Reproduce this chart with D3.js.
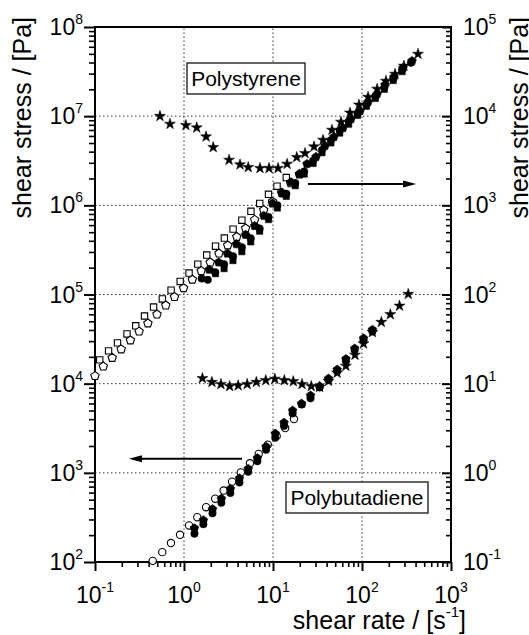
<!DOCTYPE html>
<html>
<head>
<meta charset="utf-8">
<script src="https://cdn.jsdelivr.net/npm/d3@7"></script>
<style>
  body { margin: 0; background: #fff; }
  text { font-family: "Liberation Sans", Arial, sans-serif; fill: #000; }
</style>
</head>
<body>
<div id="chart"></div>
<script>
// shear rate [1/s], shear stress [Pa]  (stars: right axis value)
const psOpenSquares = [[0.113,1.85e4],[0.142,2.33e4],[0.179,2.87e4],[0.229,3.61e4],[0.287,4.46e4],[0.360,5.74e4],
  [0.455,7.23e4],[0.571,8.91e4],[0.716,1.12e5],[0.906,1.40e5],[1.14,1.74e5],[1.43,2.19e5],[1.80,2.77e5],[2.26,3.48e5],
  [2.84,4.30e5],[3.56,5.41e5],[4.47,6.81e5],[5.65,8.57e5],[7.10,1.05e6],[8.90,1.33e6],[11.1,1.64e6],[14.1,2.05e6]]
const psOpenPentagons = [[0.100,1.22e4],[0.124,1.56e4],[0.156,1.95e4],[0.197,2.43e4],[0.250,3.06e4],[0.313,3.85e4],
  [0.393,4.75e4],[0.497,5.98e4],[0.624,7.54e4],[0.782,9.40e4],[0.989,1.18e5],[1.24,1.47e5],[1.56,1.84e5],[1.97,2.29e5],
  [2.47,2.89e5],[3.10,3.56e5],[3.92,4.43e5],[4.92,5.52e5],[6.22,6.89e5],[7.87,8.85e5],[9.87,1.10e6],[12.5,1.39e6],
  [15.8,1.77e6],[19.8,2.22e6]]
const psFilledCircles = [[1.58,1.51e5],[1.85,1.46e5],[2.24,1.78e5],[2.82,2.19e5],[3.55,2.69e5],[4.47,3.39e5],
  [5.62,4.27e5],[7.08,5.50e5],[8.91,7.41e5],[11.2,1.00e6],[14.1,1.35e6],[17.8,1.78e6],[22.4,2.40e6],[28.2,3.16e6],
  [35.5,4.17e6],[44.7,5.37e6],[56.2,6.92e6],[70.8,8.71e6],[89.1,1.07e7],[112,1.35e7],[141,1.66e7],[178,2.09e7],
  [224,2.63e7],[282,3.31e7],[355,3.98e7]]
const psFilledSquares = [[2.26,1.71e5],[2.82,1.95e5],[3.55,2.40e5],[4.47,3.02e5],[5.62,3.89e5],[7.08,5.13e5],
  [8.91,6.92e5],[11.2,9.33e5],[14.1,1.26e6],[17.8,1.66e6],[22.4,2.24e6],[28.2,2.95e6],[35.5,3.89e6],[44.7,5.01e6],
  [56.2,6.46e6],[70.8,8.13e6],[89.1,1.02e7],[112,1.29e7],[141,1.58e7],[178,2.00e7],[224,2.51e7],[282,3.16e7]]
const psFilledPentagons = [[1.92,1.90e5],[2.45,2.29e5],[3.07,2.88e5],[3.88,3.67e5],[4.92,4.67e5],[6.22,5.87e5],
  [7.87,7.64e5],[9.86,1.05e6],[12.6,1.36e6],[15.9,1.82e6],[19.8,2.25e6],[24.1,2.91e6],[30.4,3.49e6],[38.4,4.63e6],
  [48.4,5.85e6],[61.2,7.38e6],[75.2,9.31e6],[95.1,1.14e7],[117,1.44e7],[148,1.77e7],[181,2.24e7],[229,2.75e7],
  [289,3.47e7],[365,4.16e7]]
const psStars = [[0.537,1.00e4],[0.696,8.18e3],[1.05,7.91e3],[1.39,7.43e3],[1.77,5.89e3],[2.13,4.48e3],[3.21,3.23e3],
  [4.26,2.86e3],[5.27,2.67e3],[7.14,2.61e3],[9.02,2.61e3],[11.4,2.61e3],[14.4,2.91e3],[18.5,3.46e3],[22.9,3.84e3],
  [28.9,4.55e3],[36.5,5.41e3],[46.0,7.00e3],[58.1,8.61e3],[73.3,1.09e4],[92.5,1.34e4],[117,1.64e4],[148,2.02e4],
  [186,2.48e4],[235,2.97e4],[296,3.66e4],[426,4.98e4]]

const pbOpenCircles = [[0.445,103],[0.570,129],[0.714,163],[0.902,202],[1.14,257],[1.41,318],[1.77,412],[2.24,513],
  [2.79,633],[3.47,796],[4.35,1.01e3],[5.51,1.28e3],[6.91,1.63e3],[8.74,2.07e3],[11.0,2.58e3],[13.7,3.18e3],[17.2,4.01e3]]
const pbFilledCircles = [[1.31,208],[1.65,265],[2.09,352],[2.63,462],[3.32,595],[4.20,780],[5.27,1.03e3],[6.67,1.35e3],
  [8.36,1.81e3],[10.6,2.47e3],[13.3,3.35e3],[16.6,4.63e3],[21.1,5.83e3],[26.4,6.84e3],[33.4,9.07e3],[42.0,1.10e4],
  [52.6,1.38e4],[66.0,1.79e4],[82.7,2.38e4],[104,3.06e4],[131,3.85e4]]
const pbFilledPentagons = [[1.31,239],[1.65,294],[2.09,391],[2.63,513],[3.32,661],[4.20,867],[5.27,1.11e3],[6.67,1.46e3],
  [8.36,1.96e3],[10.6,2.75e3],[13.3,3.65e3],[16.6,4.99e3],[20.9,5.96e3],[26.4,7.36e3],[33.4,9.36e3],[42.0,1.14e4],
  [52.6,1.44e4],[66.0,1.89e4],[82.7,2.48e4],[104,3.22e4],[131,4.02e4]]
const pbStars = [[1.61,11.5],[2.06,10.4],[2.60,9.87],[3.26,9.36],[4.06,9.55],[5.13,9.87],[6.50,10.4],[8.29,10.9],
  [10.5,11.3],[13.4,10.9],[16.9,10.6],[21.2,9.87],[26.9,9.36],[33.4,9.17],[42.0,10.7],[52.6,13.2],[65.9,15.8],
  [83.4,21.0],[104,28.1],[131,37.8],[165,49.0],[208,59.8],[264,74.6],[331,101]]

const xTicks = [0.1, 1, 10, 100, 1000]
const yTicks = [1e2, 1e3, 1e4, 1e5, 1e6, 1e7, 1e8]
const y2Ticks = [0.1, 1, 10, 100, 1000, 1e4, 1e5]

// annotations: [x1, x2, y] in data units
const arrowRight = [24.7, 405, 1.74e6]
const arrowLeft = [4.49, 0.241, 1.44e3]

const width = 529, height = 635
const margin = {top: 27, right: 78, bottom: 73, left: 95}

const svg = d3.select("#chart").append("svg")
  .attr("width", width)
  .attr("height", height)

const x = d3.scaleLog().domain([0.1, 1000]).range([margin.left, width - margin.right])
const y = d3.scaleLog().domain([100, 1e8]).range([height - margin.bottom, margin.top])
const y2 = d3.scaleLog().domain([0.1, 1e5]).range([height - margin.bottom, margin.top])

function minors(majors) {
  let out = []
  majors.slice(0, -1).forEach(d => {
    for (let k = 2; k <= 9; k++) out.push(d * k)
  })
  return out
}

// gridlines
const grid = svg.append("g")
  .attr("stroke", "#333")
  .attr("stroke-width", 1)
  .attr("stroke-dasharray", "1.5,2.5")
grid.selectAll(".gx")
  .data(xTicks.slice(1, -1))
  .enter().append("line")
  .attr("x1", d => x(d)).attr("x2", d => x(d))
  .attr("y1", y.range()[0]).attr("y2", y.range()[1])
grid.selectAll(".gy")
  .data(yTicks.slice(1, -1))
  .enter().append("line")
  .attr("y1", d => y(d)).attr("y2", d => y(d))
  .attr("x1", x.range()[0]).attr("x2", x.range()[1])

// axes ticks
function drawAxis(axisFn, scale, majors, bigSize, smallSize, transform) {
  svg.append("g")
    .attr("transform", transform)
    .call(axisFn(scale).tickValues(majors).tickSize(bigSize).tickSizeOuter(0).tickFormat(""))
    .call(g => g.select(".domain").remove())
    .call(g => g.selectAll("line").attr("stroke-width", 2))
  svg.append("g")
    .attr("transform", transform)
    .call(axisFn(scale).tickValues(minors(majors)).tickSize(smallSize).tickSizeOuter(0).tickFormat(""))
    .call(g => g.select(".domain").remove())
    .call(g => g.selectAll("line").attr("stroke-width", 1.6))
}
const bottomY = height - margin.bottom
drawAxis(d3.axisLeft, y, yTicks, 11, 6, `translate(${margin.left},0)`)
drawAxis(d3.axisBottom, x, xTicks, 9, 5, `translate(0,${bottomY})`)
drawAxis(d3.axisLeft, y2, y2Ticks, 9, 5, `translate(${width - margin.right},0)`)

// frame
svg.append("rect")
  .attr("x", margin.left).attr("y", margin.top)
  .attr("width", x.range()[1] - x.range()[0])
  .attr("height", y.range()[0] - y.range()[1])
  .attr("fill", "none")
  .attr("stroke", "#000")
  .attr("stroke-width", 2)

// power-of-ten tick labels
function powLabel(sel) {
  sel.append("tspan").text("10")
  sel.append("tspan")
    .attr("dy", -11)
    .attr("font-size", 14)
    .text(d => Math.round(Math.log10(d)))
}
svg.append("g").selectAll("text")
  .data(yTicks).enter().append("text")
  .attr("x", margin.left - 12)
  .attr("y", d => y(d) + 8)
  .attr("text-anchor", "end")
  .attr("font-size", 23)
  .call(powLabel)
svg.append("g").selectAll("text")
  .data(y2Ticks).enter().append("text")
  .attr("x", width - margin.right + 12)
  .attr("y", d => y2(d) + 8)
  .attr("text-anchor", "start")
  .attr("font-size", 23)
  .call(powLabel)
svg.append("g").selectAll("text")
  .data(xTicks).enter().append("text")
  .attr("x", d => x(d))
  .attr("y", bottomY + 41)
  .attr("text-anchor", "middle")
  .attr("font-size", 23)
  .call(powLabel)

// axis titles
svg.append("text")
  .attr("transform", "translate(31,17) rotate(-90)")
  .attr("text-anchor", "end")
  .attr("font-size", 25)
  .text("shear stress / [Pa]")
svg.append("text")
  .attr("transform", "translate(528,17) rotate(-90)")
  .attr("text-anchor", "end")
  .attr("font-size", 25)
  .text("shear stress / [Pa]")
const xt = svg.append("text")
  .attr("x", 466)
  .attr("y", 629)
  .attr("text-anchor", "end")
  .attr("font-size", 25)
xt.append("tspan").text("shear rate / [s")
xt.append("tspan").attr("dy", -12).attr("font-size", 15).text("-1")
xt.append("tspan").attr("dy", 12).text("]")

// symbols
const symbolPentagon = {
  draw(context, size) {
    const r = Math.sqrt(size / 2.378)
    for (let i = 0; i < 5; i++) {
      const a = -Math.PI / 2 + i * 2 * Math.PI / 5
      if (i === 0) context.moveTo(r * Math.cos(a), r * Math.sin(a))
      else context.lineTo(r * Math.cos(a), r * Math.sin(a))
    }
    context.closePath()
  }
}

function plot(data, type, size, filled, yScale) {
  svg.append("g").selectAll("path")
    .data(data).enter().append("path")
    .attr("transform", d => `translate(${x(d[0])},${yScale(d[1])})`)
    .attr("d", d3.symbol().type(type).size(size))
    .attr("fill", filled ? "#000" : "#fff")
    .attr("stroke", "#000")
    .attr("stroke-width", filled ? 0.5 : 1.1)
}

plot(psOpenSquares, d3.symbolSquare, 40, false, y)
plot(psOpenPentagons, symbolPentagon, 46, false, y)
plot(pbOpenCircles, d3.symbolCircle, 42, false, y)
plot(psStars, d3.symbolStar, 38, true, y2)
plot(pbStars, d3.symbolStar, 38, true, y2)
plot(psFilledSquares, d3.symbolSquare, 40, true, y)
plot(psFilledCircles, d3.symbolCircle, 44, true, y)
plot(psFilledPentagons, symbolPentagon, 50, true, y)
plot(pbFilledPentagons, symbolPentagon, 50, true, y)
plot(pbFilledCircles, d3.symbolCircle, 44, true, y)

// arrows
function arrow(a) {
  const x1 = x(a[0]), x2 = x(a[1]), yy = y(a[2])
  const dir = x2 > x1 ? 1 : -1
  svg.append("line")
    .attr("x1", x1).attr("x2", x2 - dir * 10)
    .attr("y1", yy).attr("y2", yy)
    .attr("stroke", "#000").attr("stroke-width", 2)
  svg.append("path")
    .attr("d", `M${x2},${yy}L${x2 - dir * 13},${yy - 3.5}L${x2 - dir * 13},${yy + 3.5}Z`)
    .attr("fill", "#000")
}
arrow(arrowRight)
arrow(arrowLeft)

// sample labels
function label(txt, cx, cy, w) {
  svg.append("rect")
    .attr("x", cx - w / 2).attr("y", cy - 15.5)
    .attr("width", w).attr("height", 31)
    .attr("fill", "#fff")
    .attr("stroke", "#333").attr("stroke-width", 1.5)
  svg.append("text")
    .attr("x", cx).attr("y", cy + 7.5)
    .attr("text-anchor", "middle")
    .attr("font-size", 21)
    .text(txt)
}
label("Polystyrene", 246, 78.5, 118)
label("Polybutadiene", 357, 497.5, 142)
</script>
</body>
</html>
